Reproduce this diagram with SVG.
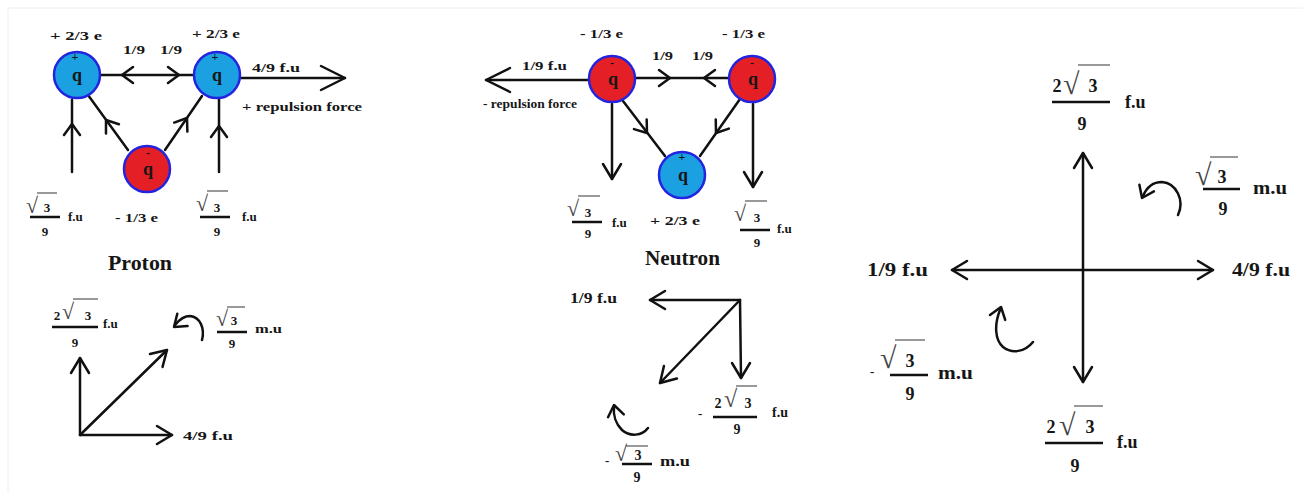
<svg xmlns="http://www.w3.org/2000/svg" xmlns:xlink="http://www.w3.org/1999/xlink" width="1303" height="493" viewBox="0 0 1303 493">
<style>
text{font-family:"Liberation Serif","Times New Roman",serif;font-weight:bold;fill:#161616}
.s{font-size:13px}
.m{font-size:14px}
.l{font-size:18px}
.t{font-size:20px}
.q{font-size:18px;text-anchor:middle}
.sg{font-size:12px;text-anchor:middle}
.c{text-anchor:middle}
.rad{font-weight:normal;fill:#444}
.ln{stroke:#111;stroke-width:2.5;fill:none;stroke-linecap:round}
.bar{stroke:#111;stroke-width:2.5}
.ob{stroke:#555;stroke-width:1.2}
.blue{fill:#1ba1e2;stroke:#2323e0;stroke-width:2.5}
.red{fill:#e42026;stroke:#2323e0;stroke-width:2.5}
</style>
<defs>
<path id="ch" d="M-11,-8 L0,0 L-11,8" fill="none" stroke="#111" stroke-width="2.5" stroke-linecap="round" stroke-linejoin="round"/>
<path id="ah" d="M-15,-9 L0,0 L-15,9" fill="none" stroke="#111" stroke-width="2.5" stroke-linecap="round" stroke-linejoin="round"/>
<path id="ahL" d="M-24,-12 L0,0 L-24,12" fill="none" stroke="#111" stroke-width="2.5" stroke-linecap="round" stroke-linejoin="round"/>
</defs>
<rect width="1303" height="493" fill="#fff"/>
<path d="M8,493 V8 H1303" fill="none" stroke="#eeeeee" stroke-width="1"/>

<g id="connectors">
  <!-- proton -->
  <line class="ln" x1="101" y1="75" x2="193" y2="75"/>
  <use xlink:href="#ch" transform="translate(122,75) rotate(180)"/>
  <use xlink:href="#ch" transform="translate(179,75)"/>
  <line class="ln" x1="241" y1="78" x2="345" y2="78"/>
  <use xlink:href="#ahL" transform="translate(345,78)"/>
  <line class="ln" x1="72" y1="172" x2="72" y2="100"/>
  <use xlink:href="#ch" transform="translate(72,124) rotate(-90)"/>
  <line class="ln" x1="219" y1="172" x2="219" y2="99"/>
  <use xlink:href="#ch" transform="translate(219,126) rotate(-90)"/>
  <line class="ln" x1="128" y1="150" x2="88" y2="95"/>
  <use xlink:href="#ch" transform="translate(106,120) rotate(-126)"/>
  <line class="ln" x1="165" y1="150" x2="202" y2="96"/>
  <use xlink:href="#ch" transform="translate(187,118) rotate(-55.6)"/>
  <!-- proton resultant -->
  <line class="ln" x1="80" y1="435" x2="80" y2="358"/>
  <use xlink:href="#ah" transform="translate(80,358) rotate(-90)"/>
  <line class="ln" x1="80" y1="435" x2="172" y2="435"/>
  <use xlink:href="#ah" transform="translate(172,435)"/>
  <line class="ln" x1="80" y1="435" x2="167" y2="350"/>
  <use xlink:href="#ah" transform="translate(167,350) rotate(-44.3)"/>
  <path class="ln" d="M202,340 C205,328 200,317 190,316 C184,316 179,320 175,325"/>
  <use xlink:href="#ch" transform="translate(174,327) rotate(140)"/>
  <!-- neutron -->
  <line class="ln" x1="636" y1="78" x2="728" y2="78"/>
  <use xlink:href="#ch" transform="translate(670,78)"/>
  <use xlink:href="#ch" transform="translate(704,78) rotate(180)"/>
  <line class="ln" x1="588" y1="80" x2="486" y2="80"/>
  <use xlink:href="#ahL" transform="translate(486,80) rotate(180)"/>
  <line class="ln" x1="612" y1="104" x2="612" y2="179"/>
  <use xlink:href="#ah" transform="translate(612,179) rotate(90)"/>
  <line class="ln" x1="753" y1="104" x2="753" y2="187"/>
  <use xlink:href="#ah" transform="translate(753,187) rotate(90)"/>
  <line class="ln" x1="623" y1="101" x2="665" y2="156"/>
  <use xlink:href="#ch" transform="translate(647,133) rotate(52.6)"/>
  <line class="ln" x1="740" y1="99" x2="700" y2="156"/>
  <use xlink:href="#ch" transform="translate(716,133) rotate(125)"/>
  <!-- neutron resultant -->
  <line class="ln" x1="740" y1="300" x2="650" y2="300"/>
  <use xlink:href="#ah" transform="translate(650,300) rotate(180)"/>
  <line class="ln" x1="740" y1="300" x2="741" y2="378"/>
  <use xlink:href="#ah" transform="translate(741,378) rotate(90)"/>
  <line class="ln" x1="740" y1="300" x2="660" y2="383"/>
  <use xlink:href="#ah" transform="translate(660,383) rotate(134)"/>
  <path class="ln" d="M648,428 C642,436 630,437 622,430 C616,424 613,415 614,407"/>
  <use xlink:href="#ch" transform="translate(614,405) rotate(-100)"/>
  <!-- right diagram -->
  <line class="ln" x1="952" y1="270" x2="1213" y2="270"/>
  <use xlink:href="#ah" transform="translate(952,270) rotate(180)"/>
  <use xlink:href="#ah" transform="translate(1213,270)"/>
  <line class="ln" x1="1083" y1="153" x2="1083" y2="382"/>
  <use xlink:href="#ah" transform="translate(1083,153) rotate(-90)"/>
  <use xlink:href="#ah" transform="translate(1083,382) rotate(90)"/>
  <path class="ln" d="M1178,215 C1185,200 1176,183 1162,182 C1152,182 1146,189 1143,196"/>
  <use xlink:href="#ch" transform="translate(1142,198) rotate(115)"/>
  <path class="ln" d="M1033,342 C1025,352 1012,354 1003,347 C995,340 994,325 1000,310"/>
  <use xlink:href="#ch" transform="translate(1001,307) rotate(-72)"/>
</g>

<g id="proton-q1"><circle class="blue" cx="77" cy="75" r="23"/><text class="sg" x="75" y="61">+</text><text class="q" x="77" y="81">q</text></g>
<g id="proton-q2"><circle class="blue" cx="217" cy="75" r="23"/><text class="sg" x="215" y="61">+</text><text class="q" x="217" y="81">q</text></g>
<g id="proton-q3"><circle class="red" cx="147" cy="169" r="23"/><text class="sg" x="148" y="157">-</text><text class="q" x="148" y="175">q</text></g>
<g id="neutron-q1"><circle class="red" cx="612" cy="79" r="23"/><text class="sg" x="612" y="67">-</text><text class="q" x="613" y="85">q</text></g>
<g id="neutron-q2"><circle class="red" cx="752" cy="79" r="23"/><text class="sg" x="752" y="67">-</text><text class="q" x="753" y="85">q</text></g>
<g id="neutron-q3"><circle class="blue" cx="682" cy="175" r="23"/><text class="sg" x="682" y="161">+</text><text class="q" x="683" y="181">q</text></g>

<g id="proton-labels">
  <text class="s" x="50" y="40" textLength="52" lengthAdjust="spacingAndGlyphs">+ 2/3 e</text>
  <text class="s" x="192" y="38" textLength="48" lengthAdjust="spacingAndGlyphs">+ 2/3 e</text>
  <text class="s" x="123" y="54" textLength="22" lengthAdjust="spacingAndGlyphs">1/9</text>
  <text class="s" x="160" y="54" textLength="22" lengthAdjust="spacingAndGlyphs">1/9</text>
  <text class="s" x="252" y="72" textLength="48" lengthAdjust="spacingAndGlyphs">4/9  f.u</text>
  <text class="s" x="242" y="111" textLength="120" lengthAdjust="spacingAndGlyphs">+ repulsion force</text>
  <text class="s" x="115" y="222" textLength="43" lengthAdjust="spacingAndGlyphs">- 1/3 e</text>
  <text class="t" x="108" y="270" textLength="64" lengthAdjust="spacingAndGlyphs">Proton</text>
  <!-- left fraction -->
  <text class="rad" x="26" y="213" font-size="22">√</text>
  <line class="ob" x1="37" y1="193" x2="57" y2="193"/>
  <text class="s c" x="47" y="212">3</text>
  <line class="bar" x1="30" y1="217" x2="60" y2="217"/>
  <text class="s c" x="45" y="236">9</text>
  <text class="s" x="68" y="221">f.u</text>
  <!-- right fraction -->
  <text class="rad" x="196" y="211" font-size="22">√</text>
  <line class="ob" x1="207" y1="191" x2="228" y2="191"/>
  <text class="s c" x="217" y="212">3</text>
  <line class="bar" x1="200" y1="217" x2="230" y2="217"/>
  <text class="s c" x="217" y="236">9</text>
  <text class="s" x="242" y="221">f.u</text>
</g>

<g id="proton-resultant-labels">
  <text class="s c" x="57" y="320">2</text>
  <text class="rad" x="62" y="319" font-size="22">√</text>
  <line class="ob" x1="73" y1="299" x2="98" y2="299"/>
  <text class="s c" x="88" y="320">3</text>
  <line class="bar" x1="52" y1="327" x2="98" y2="327"/>
  <text class="s c" x="75" y="347">9</text>
  <text class="s" x="103" y="328">f.u</text>
  <text class="rad" x="216" y="326" font-size="22">√</text>
  <line class="ob" x1="227" y1="307" x2="245" y2="307"/>
  <text class="s c" x="234" y="325">3</text>
  <line class="bar" x1="217" y1="332" x2="247" y2="332"/>
  <text class="s c" x="232" y="348">9</text>
  <text class="s" x="255" y="333" textLength="27" lengthAdjust="spacingAndGlyphs">m.u</text>
  <text class="s" x="183" y="440" textLength="50" lengthAdjust="spacingAndGlyphs">4/9  f.u</text>
</g>

<g id="neutron-labels">
  <text class="s" x="580" y="38" textLength="43" lengthAdjust="spacingAndGlyphs">- 1/3 e</text>
  <text class="s" x="722" y="38" textLength="43" lengthAdjust="spacingAndGlyphs">- 1/3 e</text>
  <text class="s" x="652" y="60" textLength="21" lengthAdjust="spacingAndGlyphs">1/9</text>
  <text class="s" x="692" y="60" textLength="21" lengthAdjust="spacingAndGlyphs">1/9</text>
  <text class="s" x="522" y="70" textLength="45" lengthAdjust="spacingAndGlyphs">1/9  f.u</text>
  <text class="s" x="483" y="108" textLength="94" lengthAdjust="spacingAndGlyphs">- repulsion force</text>
  <text class="s" x="650" y="225" textLength="50" lengthAdjust="spacingAndGlyphs">+ 2/3 e</text>
  <text class="t" x="645" y="265" textLength="75" lengthAdjust="spacingAndGlyphs">Neutron</text>
  <text class="rad" x="567" y="216" font-size="22">√</text>
  <line class="ob" x1="578" y1="196" x2="600" y2="196"/>
  <text class="s c" x="588" y="217">3</text>
  <line class="bar" x1="572" y1="222" x2="602" y2="222"/>
  <text class="s c" x="588" y="238">9</text>
  <text class="s" x="612" y="227">f.u</text>
  <text class="rad" x="734" y="221" font-size="22">√</text>
  <line class="ob" x1="745" y1="201" x2="767" y2="201"/>
  <text class="s c" x="757" y="222">3</text>
  <line class="bar" x1="740" y1="230" x2="770" y2="230"/>
  <text class="s c" x="757" y="247">9</text>
  <text class="s" x="777" y="233">f.u</text>
</g>

<g id="neutron-resultant-labels">
  <text class="m" x="570" y="303" textLength="47" lengthAdjust="spacingAndGlyphs">1/9  f.u</text>
  <text class="s" x="698" y="418" font-size="9">-</text>
  <text class="m c" x="718" y="408">2</text>
  <text class="rad" x="724" y="407" font-size="24">√</text>
  <line class="ob" x1="736" y1="386" x2="757" y2="386"/>
  <text class="m c" x="748" y="408">3</text>
  <line class="bar" x1="713" y1="417" x2="757" y2="417"/>
  <text class="m c" x="737" y="434">9</text>
  <text class="m" x="772" y="417">f.u</text>
  <text class="s" x="605" y="465" font-size="9">-</text>
  <text class="rad" x="615" y="461" font-size="22">√</text>
  <line class="ob" x1="626" y1="446" x2="648" y2="446"/>
  <text class="m c" x="638" y="460">3</text>
  <line class="bar" x1="622" y1="464" x2="652" y2="464"/>
  <text class="m c" x="637" y="482">9</text>
  <text class="m" x="660" y="466" textLength="30" lengthAdjust="spacingAndGlyphs">m.u</text>
</g>

<g id="right-labels">
  <text class="l" x="867" y="276" textLength="61" lengthAdjust="spacingAndGlyphs">1/9  f.u</text>
  <text class="l" x="1232" y="276" textLength="58" lengthAdjust="spacingAndGlyphs">4/9  f.u</text>
  <text class="l c" x="1057" y="92">2</text>
  <text class="rad" x="1063" y="94" font-size="30">√</text>
  <line class="ob" x1="1078" y1="65" x2="1110" y2="65"/>
  <text class="l c" x="1093" y="92">3</text>
  <line class="bar" x1="1052" y1="102" x2="1110" y2="102"/>
  <text class="l c" x="1082" y="130">9</text>
  <text class="l" x="1125" y="108">f.u</text>
  <text class="rad" x="1195" y="185" font-size="30">√</text>
  <line class="ob" x1="1210" y1="157" x2="1238" y2="157"/>
  <text class="l c" x="1222" y="183">3</text>
  <line class="bar" x1="1203" y1="189" x2="1240" y2="189"/>
  <text class="l c" x="1223" y="215">9</text>
  <text class="l" x="1253" y="194" textLength="34" lengthAdjust="spacingAndGlyphs">m.u</text>
  <text class="s" x="870" y="376" font-size="10">-</text>
  <text class="rad" x="880" y="368" font-size="30">√</text>
  <line class="ob" x1="895" y1="340" x2="925" y2="340"/>
  <text class="l c" x="910" y="367">3</text>
  <line class="bar" x1="890" y1="375" x2="928" y2="375"/>
  <text class="l c" x="910" y="400">9</text>
  <text class="l" x="938" y="379" textLength="35" lengthAdjust="spacingAndGlyphs">m.u</text>
  <text class="l c" x="1051" y="433">2</text>
  <text class="rad" x="1059" y="435" font-size="30">√</text>
  <line class="ob" x1="1074" y1="406" x2="1103" y2="406"/>
  <text class="l c" x="1090" y="433">3</text>
  <line class="bar" x1="1045" y1="443" x2="1103" y2="443"/>
  <text class="l c" x="1075" y="472">9</text>
  <text class="l" x="1117" y="448">f.u</text>
</g>
</svg>
